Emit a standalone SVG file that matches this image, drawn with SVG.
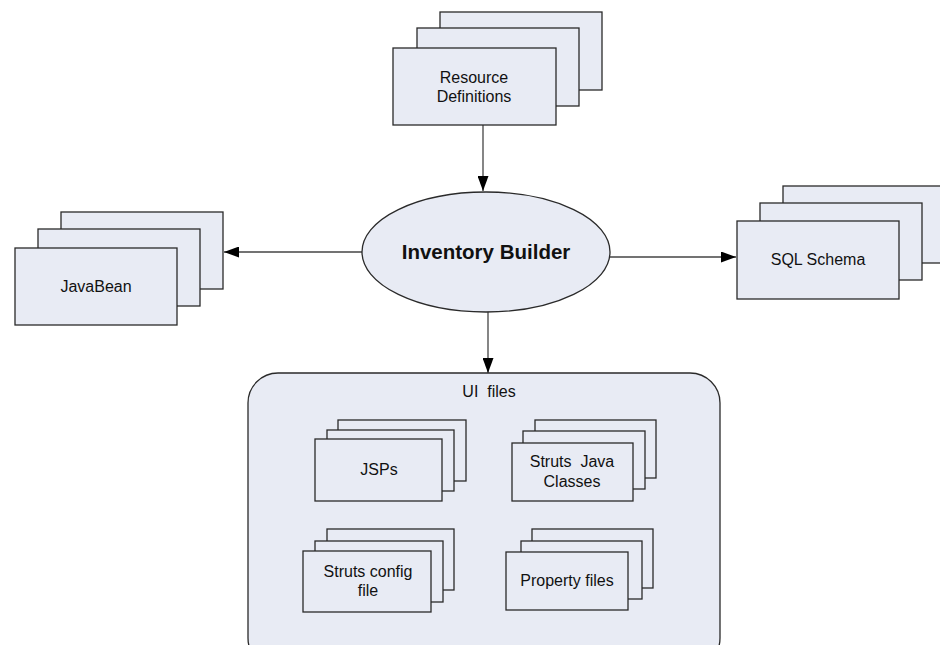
<svg xmlns="http://www.w3.org/2000/svg" width="940" height="645" viewBox="0 0 940 645">
<defs>
<style>
.b{fill:#e8ebf4;stroke:#2a2a2a;stroke-width:1.3}
.t{font-family:"Liberation Sans",Arial,sans-serif;font-size:16px;fill:#111;text-anchor:middle}
.h{font-size:20.5px;font-weight:bold}
.c{stroke:#444;stroke-width:1.3;fill:none}
</style>
<marker id="ah" markerWidth="15" markerHeight="11" refX="15" refY="5.5" orient="auto" markerUnits="userSpaceOnUse">
<path d="M0,0 L15,5.5 L0,11 Z" fill="#000"/>
</marker>
</defs>
<rect width="940" height="645" fill="#fff"/>
<g id="connectors">
<line class="c" x1="483" y1="125" x2="483" y2="191" marker-end="url(#ah)"/>
<line class="c" x1="362" y1="252" x2="224" y2="252" marker-end="url(#ah)"/>
<line class="c" x1="610" y1="257" x2="736" y2="257" marker-end="url(#ah)"/>
<line class="c" x1="488" y1="311" x2="488" y2="373" marker-end="url(#ah)"/>
</g>
<g id="resource-definitions">
<rect class="b" x="440" y="12" width="162" height="78"/>
<rect class="b" x="417" y="28" width="162" height="78"/>
<rect class="b" x="393" y="48" width="163" height="77"/>
<text class="t" x="474" y="83">Resource</text>
<text class="t" x="474" y="102">Definitions</text>
</g>
<g id="inventory-builder">
<ellipse class="b" cx="486" cy="252" rx="124" ry="60"/>
<text class="t h" x="486" y="259">Inventory Builder</text>
</g>
<g id="javabean">
<rect class="b" x="61" y="212" width="162" height="77"/>
<rect class="b" x="38" y="229" width="162" height="77"/>
<rect class="b" x="15" y="248" width="162" height="77"/>
<text class="t" x="96" y="292">JavaBean</text>
</g>
<g id="sql-schema">
<rect class="b" x="783" y="186" width="170" height="77"/>
<rect class="b" x="760" y="203" width="162" height="77"/>
<rect class="b" x="737" y="221" width="162" height="78"/>
<text class="t" x="818" y="265">SQL Schema</text>
</g>
<g id="ui-files">
<rect class="b" x="248" y="373" width="472" height="295" rx="30" ry="30"/>
<text class="t" x="489" y="397" xml:space="preserve">UI  files</text>
</g>
<g id="jsps">
<rect class="b" x="338" y="420" width="128" height="61"/>
<rect class="b" x="327" y="430" width="127" height="61"/>
<rect class="b" x="315" y="439" width="127" height="62"/>
<text class="t" x="379" y="475">JSPs</text>
</g>
<g id="struts-java-classes">
<rect class="b" x="535" y="420" width="121" height="58"/>
<rect class="b" x="523" y="431" width="122" height="58"/>
<rect class="b" x="512" y="443" width="121" height="58"/>
<text class="t" x="572" y="467" xml:space="preserve">Struts  Java</text>
<text class="t" x="572" y="487">Classes</text>
</g>
<g id="struts-config-file">
<rect class="b" x="327" y="529" width="127" height="61"/>
<rect class="b" x="315" y="541" width="128" height="61"/>
<rect class="b" x="303" y="551" width="128" height="61"/>
<text class="t" x="368" y="577">Struts config</text>
<text class="t" x="368" y="596">file</text>
</g>
<g id="property-files">
<rect class="b" x="532" y="529" width="121" height="59"/>
<rect class="b" x="521" y="541" width="121" height="58"/>
<rect class="b" x="506" y="552" width="122" height="58"/>
<text class="t" x="567" y="586">Property files</text>
</g>
</svg>
